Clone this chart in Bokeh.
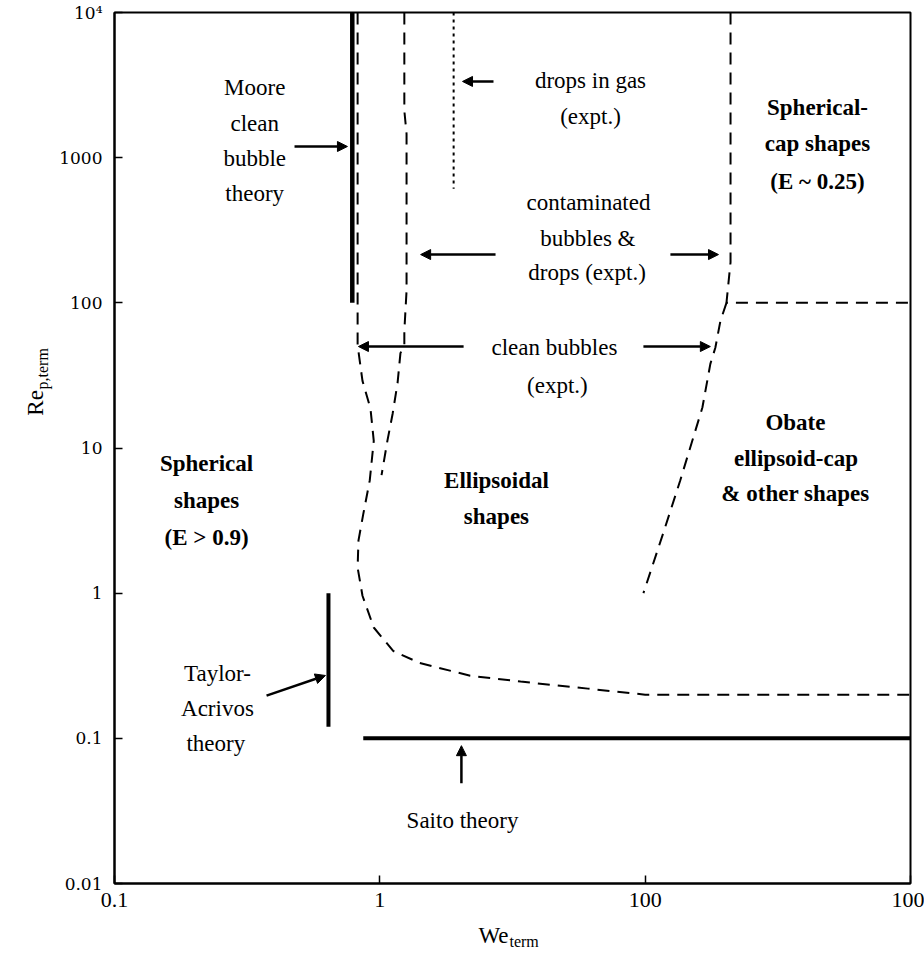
from bokeh.plotting import figure
from bokeh.models import Range1d, FixedTicker, Arrow, NormalHead, Label
from bokeh.core.properties import value
from bokeh.embed import file_html
from bokeh.resources import INLINE

# ---------------- data (We_term, Re_p,term) ----------------
x_ticks = [0.01, 1, 100, 10000]
x_tick_labels = ["0.1", "1", "100", "100"]
y_ticks = [0.01, 0.1, 1, 10, 100, 1000, 10000]
y_tick_labels = ["0.01", "0.1", "1", "10", "100", "1000", "10\u2074"]

# clean bubbles (expt.) left boundary and lower boundary of ellipsoidal region
clean_we = [0.68, 0.68, 0.74, 0.85, 0.90, 0.84, 0.75, 0.69, 0.68, 0.74, 0.90,
            1.26, 2.0, 4.8, 11.5, 37, 100, 10000]
clean_re = [10000, 51, 29, 18.7, 11.2, 6.0, 3.5, 2.3, 1.5, 0.96, 0.58,
            0.40, 0.33, 0.27, 0.246, 0.22, 0.2, 0.2]

# contaminated bubbles & drops (expt.) left boundary
cont_we = [1.53, 1.53, 1.59, 1.59, 1.53, 1.53, 1.43, 1.36, 1.25, 1.14, 1.03]
cont_re = [10000, 2110, 1460, 121, 64, 51, 45, 28, 17.3, 11.2, 6.5]

# drops in gas (expt.)
gas_we = [3.6, 3.6]
gas_re = [10000, 610]

# spherical-cap boundary
cap_we = [440, 440, 410, 10000]
cap_re = [10000, 190, 100, 100]

# oblate ellipsoid-cap boundary
obl_we = [410, 369, 338, 310, 270, 184, 137, 97]
obl_re = [100, 75, 49, 38, 19, 6.0, 2.6, 1.0]

# theories
moore_we = [0.62, 0.62]
moore_re = [10000, 100]
taylor_we = [0.41, 0.41]
taylor_re = [1.0, 0.12]
saito_we = [0.75, 10000]
saito_re = [0.1, 0.1]

# ---------------- figure ----------------
p = figure(width=924, height=954, x_axis_type="log", y_axis_type="log",
           x_range=Range1d(0.01, 10000), y_range=Range1d(0.01, 10000),
           output_backend="svg", toolbar_location=None,
           min_border_left=114, min_border_right=14,
           min_border_top=12, min_border_bottom=71)
p.xgrid.visible = False
p.ygrid.visible = False
p.outline_line_color = "black"
p.outline_line_width = 2
p.background_fill_color = "white"
p.border_fill_color = "white"

xa = p.xaxis[0]
xa.ticker = FixedTicker(ticks=x_ticks, minor_ticks=[])
xa.major_label_overrides = dict(zip(x_ticks, x_tick_labels))
xa.major_tick_in = 8
xa.major_tick_out = 0
xa.minor_tick_in = 0
xa.minor_tick_out = 0
xa.axis_line_width = 2
xa.major_tick_line_width = 1.5
xa.major_label_text_font = "Liberation Serif"
xa.major_label_text_font_size = "22px"
xa.major_label_text_color = "black"
xa.major_label_standoff = 9

ya = p.yaxis[0]
ya.ticker = FixedTicker(ticks=y_ticks, minor_ticks=[])
ya.major_label_overrides = dict(zip(y_ticks, y_tick_labels))
ya.major_tick_in = 8
ya.major_tick_out = 0
ya.minor_tick_in = 0
ya.minor_tick_out = 0
ya.axis_line_width = 2
ya.major_tick_line_width = 1.5
ya.major_label_text_font = "DejaVu Serif"
ya.major_label_text_font_size = "17px"
ya.major_label_text_color = "black"
ya.major_label_standoff = 12

DASH = "12 8"
p.line(clean_we, clean_re, line_color="black", line_width=2, line_dash=DASH)
p.line(cont_we, cont_re, line_color="black", line_width=2, line_dash=DASH)
p.line(gas_we, gas_re, line_color="black", line_width=2, line_dash="3 4")
p.line(cap_we, cap_re, line_color="black", line_width=2, line_dash=DASH)
p.line(obl_we, obl_re, line_color="black", line_width=2, line_dash=DASH)
p.line(moore_we, moore_re, line_color="black", line_width=4.5)
p.line(taylor_we, taylor_re, line_color="black", line_width=4)
p.line(saito_we, saito_re, line_color="black", line_width=4)

# ---------------- arrows ----------------
arrows = [
    (0.2275, 1194, 0.57, 1194),      # Moore
    (7.19, 3350, 4.20, 3350),        # drops in gas
    (7.45, 215, 2.03, 215),          # contaminated left
    (155, 215, 357, 215),            # contaminated right
    (4.28, 50, 0.69, 50),            # clean left
    (97, 50, 310, 50),               # clean right
    (0.140, 0.197, 0.389, 0.271),    # Taylor-Acrivos
    (4.12, 0.049, 4.12, 0.089),      # Saito
]
for x0, y0, x1, y1 in arrows:
    p.add_layout(Arrow(x_start=x0, y_start=y0, x_end=x1, y_end=y1,
                       line_color="black", line_width=2.5,
                       end=NormalHead(size=10, fill_color="black",
                                      line_color="black", line_width=1)))

# ---------------- texts ----------------
def add_text(txt, x, y, size="23px", bold=False, align="center",
             baseline="middle", angle=0.0):
    p.add_layout(Label(x=x, y=y, text=txt, text_font="Liberation Serif",
                       text_font_size=size,
                       text_font_style="bold" if bold else "normal",
                       text_align=align, text_baseline=baseline,
                       text_color="black", angle=angle))

normal_texts = [
    ("Moore", 0.114, 3040), ("clean", 0.114, 1720), ("bubble", 0.114, 990),
    ("theory", 0.114, 565),
    ("drops in gas", 38.7, 3400), ("(expt.)", 38.7, 1920),
    ("contaminated", 37.4, 491), ("bubbles &", 37.0, 277),
    ("drops (expt.)", 36.5, 162),
    ("clean bubbles", 20.7, 49.2), ("(expt.)", 21.8, 26.9),
    ("Taylor-", 0.0597, 0.280), ("Acrivos", 0.0597, 0.160),
    ("theory", 0.058, 0.092),
    ("Saito theory", 4.2, 0.0272),
]
bold_texts = [
    ("Spherical-", 1990, 2210), ("cap shapes", 1990, 1253),
    ("(E ~ 0.25)", 1990, 685),
    ("Spherical", 0.0494, 7.82), ("shapes", 0.0494, 4.35),
    ("(E > 0.9)", 0.0494, 2.42),
    ("Ellipsoidal", 7.57, 5.97), ("shapes", 7.57, 3.37),
    ("Obate", 1358, 15.0), ("ellipsoid-cap", 1370, 8.47),
    ("& other shapes", 1358, 4.86),
]
for t, x, y in normal_texts:
    add_text(t, x, y)
for t, x, y in bold_texts:
    add_text(t, x, y, bold=True)

# axis titles (drawn as overlay text so they sit outside the frame)
def title_text(txt, x, y, size, align, angle=0.0):
    p.text(x=[x], y=[y], text=[txt], text_font=value("Liberation Serif"),
           text_font_size=size, text_align=align, text_baseline="middle",
           text_color="black", angle=angle, level="overlay")

title_text("We", 9.33, 0.00439, "23px", "right")
title_text("term", 9.49, 0.00398, "16px", "left")
title_text("Re", 0.00254, 16.7, "23px", "left", 1.5708)
title_text("p,term", 0.00286, 25.3, "16px", "left", 1.5708)

open("out.html", "w").write(file_html(p, INLINE))
